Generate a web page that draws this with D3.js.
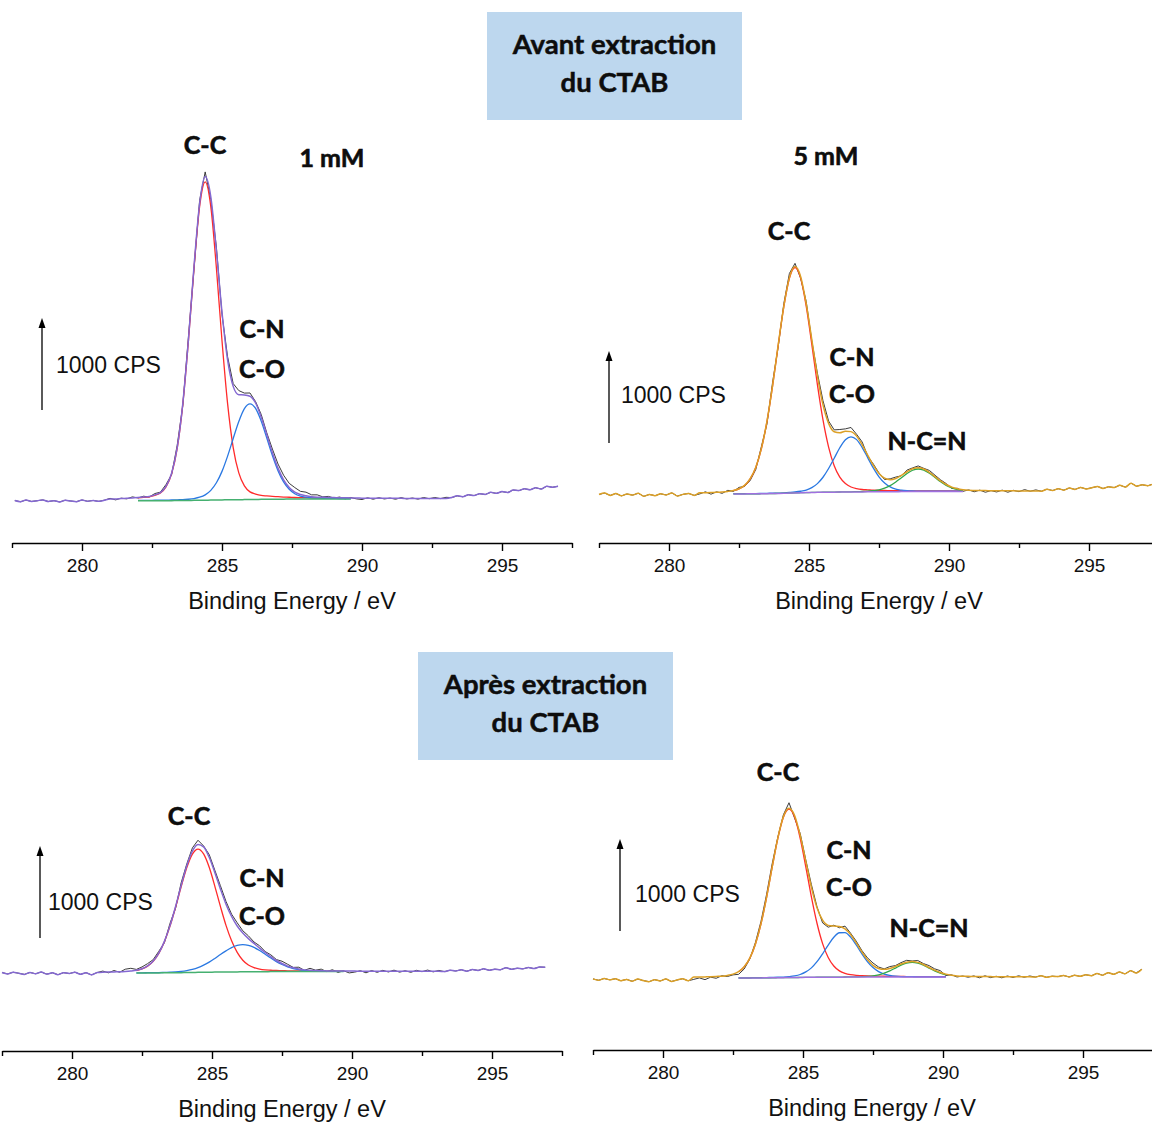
<!DOCTYPE html>
<html><head><meta charset="utf-8">
<script src="https://cdn.jsdelivr.net/npm/d3@7"></script>
<style>html,body{margin:0;padding:0;background:#fff;}svg{display:block;}</style>
</head><body>
<svg id="chart" width="1152" height="1122"></svg>
<script>
// ---------------- DATA ----------------
const energyDomain = [277.5, 297.5];
const tickLabels = [280, 285, 290, 295];
const minorTicks = [277.5, 282.5, 287.5, 292.5, 297.5];
const STEP = 0.2; // eV sampling of every series

// Panel A : 1 mM, avant extraction (raw from 277.6 eV, fit from 281.0 eV)
const rawA = [5,-8,10,-5,3,12,-6,4,-10,8,0,-7,11,-3,6,-4,9,
 29,12,31,23,45,33,52,43,81,96,179,287,605,1039,1779,2524,3266,3577,3276,2760,2027,1568,1276,1200,1173,1174,1080,941,740,565,402,280,192,146,105,96,67,67,45,50,32,43,23,38,23,16,35,19,36,22,32,19,37,22,33,20,38,25,38,26,40,
 37,56,46,68,59,79,71,94,83,102,92,119,113,133,122,144,130,160,149,160];
const bgA = [3,3,3,3,3,3,3,3,3,3,4,4,5,5,6,7,8,9,10,11,12,13,14,14,15,16,17,18,19,19,20,20,21,21,21,
 22,22,22,22,22,22,22,22,22,22,22,22,22,22,22,22,22,22,22,22,22,22,22,22,22,22];
const ccA = [16,17,20,23,27,31,36,43,59,83,149,291,567,1045,1730,2522,3190,3460,
 3190,2522,1730,1045,567,291,149,83,59,43,36,31,27,23,20,17,16,
 14,12,11,10,9,9,8,8,7,7,6,6,6,5,5,5,5,5,4,4,4,4,4,4,4,4];
const cnA = [2,2,3,3,3,3,4,4,5,5,6,7,8,9,13,20,33,58,106,187,310,475,665,850,989,1040,
 989,850,665,475,310,187,106,58,33,20,13,9,8,7,6,5,5,4,4,3,3,3,3,3,2,2,2,2,2,2,2,2,2,2,2];

// Panel B : 5 mM, avant extraction (raw from 277.5 eV, fit from 281.1 eV)
const rawB = [-5,10,-15,5,-20,0,-12,8,-25,-5,-18,2,-10,12,-22,-4,6,-15,
 1,24,-2,24,7,40,28,72,82,147,267,516,763,1215,1600,2069,2397,2507,2345,2094,1664,1314,1013,793,697,701,708,723,649,565,410,325,228,157,165,184,198,260,284,305,279,256,204,154,113,60,62,29,45,24,42,19,37,22,42,19,40,25,48,30,
 45,30,52,38,58,42,65,50,72,55,68,82,60,78,70,95,75,118,85,100,90,110];
const bgB = [0,0,0,0,0,0,1,1,1,2,2,3,4,5,6,8,10,12,14,15,17,18,19,20,20,21,22,22,23,23,24,24,24,25,25,25,26,26,26,27,27,28,28,28,28,
 28,28,28,28,28,28,28,28,28,28,28,28,28,28,28,28];
const ccB = [12,13,15,17,21,26,35,54,91,162,287,490,786,1171,1610,2026,2335,2450,
 2335,2026,1610,1171,786,490,287,162,91,54,35,26,21,17,15,13,12,
 11,10,9,9,8,8,7,7,6,6,6,6,5,5,5,5,5,4,4,4,4,4,4,4,4,4];
const cnB = [1,1,1,1,1,2,2,2,2,3,3,3,3,4,4,5,7,10,16,28,52,95,163,257,369,482,568,600,
 568,482,369,257,163,95,52,28,16,10,7,5,4,4,3,3,3,2,2,2,2,2,2,2,1,1,1,1,1,1,1,1,1];
const ncnB = [0,0,0,0,0,0,0,0,0,0,0,0,0,0,0,0,0,0,0,0,0,0,0,
 1,1,1,2,2,3,4,6,12,21,39,66,105,151,197,232,245,
 232,197,151,105,66,39,21,12,6,4,3,2,2,1,1,1,1,0,0,0,0];

// Panel C : 1 mM, après extraction (raw from 277.5 eV, fit from 281.1 eV)
const rawC = [5,-10,8,-3,-15,6,-8,10,-12,2,-18,4,-6,9,-14,3,-20,5,
 21,2,27,8,41,51,39,66,102,145,236,329,540,704,982,1186,1360,1443,1381,1288,1118,949,778,639,546,459,404,337,296,233,198,146,128,95,61,63,29,51,31,42,15,36,6,24,1,10,25,2,27,7,29,11,31,9,25,7,29,14,32,12,28,
 15,30,22,35,20,38,28,45,30,42,35,58,40,52,45,60,48,65,62];
const bgC = [0,0,0,0,0,0,0,0,1,1,1,2,2,3,4,5,6,7,8,9,10,11,11,12,12,13,13,14,14,14,
 15,15,15,15,15,15,15,15,15,15,15,15,15,15,15,15,15,15,15,15,15,15,15,15,15,15,15,15,15,15,15];
const ccC = [8,9,11,12,15,19,27,44,74,126,212,338,507,713,935,1140,1286,1340,
 1286,1140,935,713,507,338,212,126,74,44,27,19,15,12,11,9,8,7,6,6,5,5,5,4,4,4,4,4,3,3,3,3,3,3,3,3,3,3,2,2,2,2,2];
const cnC = [1,1,1,1,1,2,2,2,2,3,3,4,6,8,13,21,33,51,77,109,148,190,230,264,287,295,
 287,264,230,190,148,109,77,51,33,21,13,8,6,4,3,3,2,2,2,2,1,1,1,1,1,1,1,1,1,1,1,1,1,1,1];

// Panel D : 5 mM, après extraction (raw from 277.5 eV, fit from 281.1 eV)
const rawD = [-10,-25,-5,-20,-8,-30,-15,-35,-12,-28,-40,-18,-32,-10,-38,-22,-8,-30,
 -15,1,-18,9,-3,25,16,34,40,98,206,385,616,910,1243,1531,1774,1905,1737,1571,1283,1015,774,599,552,574,546,564,487,401,300,220,163,119,99,124,135,167,192,185,190,157,135,100,80,27,35,11,22,8,23,2,24,4,19,2,22,6,24,8,22,
 10,25,8,20,15,28,12,30,18,35,25,50,30,58,40,65,45,80,55,95];
const bgD = [0,0,0,0,0,0,0,0,0,0,0,1,1,2,2,3,4,5,5,6,7,7,8,8,9,9,9,
 10,10,10,10,10,10,10,10,10,10,10,10,10,10,10,10,10,10,10,10,10,10,10,10,10,10,10,10,10,10,10,10,10,10];
const ccD = [9,10,11,13,16,19,26,40,68,121,214,366,587,875,1202,1513,1744,1830,
 1744,1513,1202,875,587,366,214,121,68,40,26,19,16,13,11,10,9,8,7,7,6,6,6,5,5,5,5,5,4,4,4,4,4,4,4,4,3,3,3,3,3,3,3];
const cnD = [1,1,1,1,1,1,2,2,2,2,2,3,3,3,4,5,6,10,18,32,59,103,169,255,349,434,483,483,
 434,349,255,169,103,59,32,18,10,6,5,4,3,3,2,2,2,2,2,1,1,1,1,1,1,1,1,1,1,1,1,1,1];
const ncnD = [0,0,0,0,0,0,0,0,0,0,0,0,0,0,0,0,0,0,0,0,0,0,0,0,0,0,
 1,1,2,3,4,8,14,25,43,68,98,129,151,160,151,129,98,68,43,25,14,8,4,3,2,1,1,
 0,0,0,0,0,0,0,0];

// energy window over which the fitted components / background were drawn
const compRangeA = [282.0, 289.6];
const compRangeB = [282.3, 290.5];
const compRangeC = [282.2, 289.8];
const compRangeD = [282.7, 290.2];

// ---------------- STYLE / LAYOUT ----------------
const RED = '#ff2b2b', BLUE = '#2a78e2', GREEN = '#45b070', NGREEN = '#2fa84a';
const PURPLE = '#8468d2', GOLD = '#dca026', VIOLET = '#a070e0', RAW = '#3c3c3c';
const PX_PER_1000 = 92;

const panels = [
 {raw: rawA, rawStart: 277.6, fitStart: 281.0, bg: bgA, comps: [[ccA, RED], [cnA, BLUE]], range: compRangeA,
  env: PURPLE, bgColor: GREEN, x0: 12, x1: 572, axisY: 543, baseY: 501,
  arrowX: 42, arrowFrom: 990, cpsX: 56, cpsY: 365, titleX: 292, titleY: 601,
  labels: [['C-C',205,144],['1 mM',332,157],['C-N',262,328],['C-O',262,368]]},
 {raw: rawB, rawStart: 277.5, fitStart: 281.1, bg: bgB, comps: [[ccB, RED], [cnB, BLUE], [ncnB, NGREEN]], range: compRangeB,
  env: GOLD, bgColor: VIOLET, x0: 599, x1: 1159, axisY: 543, baseY: 494,
  arrowX: 609, arrowFrom: 554, cpsX: 621, cpsY: 395, titleX: 879, titleY: 601,
  labels: [['5 mM',826,155],['C-C',789,230],['C-N',852,356],['C-O',852,393],['N-C=N',927,440]]},
 {raw: rawC, rawStart: 277.5, fitStart: 281.1, bg: bgC, comps: [[ccC, RED], [cnC, BLUE]], range: compRangeC,
  env: PURPLE, bgColor: GREEN, x0: 2, x1: 562, axisY: 1051, baseY: 973,
  arrowX: 40, arrowFrom: 380, cpsX: 48, cpsY: 902, titleX: 282, titleY: 1109,
  labels: [['C-C',189,815],['C-N',262,877],['C-O',262,915]]},
 {raw: rawD, rawStart: 277.5, fitStart: 281.1, bg: bgD, comps: [[ccD, RED], [cnD, BLUE], [ncnD, NGREEN]], range: compRangeD,
  env: GOLD, bgColor: VIOLET, x0: 593, x1: 1153, axisY: 1050, baseY: 978,
  arrowX: 620, arrowFrom: 511, cpsX: 635, cpsY: 894, titleX: 872, titleY: 1108,
  labels: [['C-C',778,771],['C-N',849,849],['C-O',849,886],['N-C=N',929,927]]}
];

const boxes = [
 {x: 487, y: 12, w: 255, h: 108, lines: ['Avant extraction', 'du CTAB'], ly: [43, 81]},
 {x: 418, y: 652, w: 255, h: 108, lines: ['Après extraction', 'du CTAB'], ly: [683, 721]}
];

// ---------------- DRAW ----------------
const svg = d3.select('#chart');
svg.append('rect').attr('width', 1152).attr('height', 1122).attr('fill', '#fff');
const AXFONT = '"Liberation Sans", Arial, sans-serif';
const BOLDFONT = 'Lato, "Open Sans", sans-serif';

const pts = (start, vals) => vals.map((v, i) => [start + STEP * i, v]);

panels.forEach(p => {
  const x = d3.scaleLinear().domain(energyDomain).range([p.x0, p.x1]);
  const y = d3.scaleLinear().domain([0, 1000]).range([p.baseY, p.baseY - PX_PER_1000]);
  const g = svg.append('g');

  // axis
  const ax = g.append('g').attr('transform', `translate(0,${p.axisY})`)
    .call(d3.axisBottom(x).tickValues(tickLabels).tickSize(8).tickSizeOuter(0).tickPadding(8).tickFormat(d3.format('d')));
  ax.attr('font-size', 19).attr('font-family', AXFONT);
  ax.select('.domain').attr('stroke', '#000').attr('stroke-width', 1.6);
  ax.selectAll('.tick line').attr('stroke', '#000').attr('stroke-width', 1.4);
  ax.selectAll('.tick text').attr('fill', '#111');
  const mn = g.append('g').attr('transform', `translate(0,${p.axisY})`)
    .call(d3.axisBottom(x).tickValues(minorTicks).tickSize(5).tickSizeOuter(0).tickFormat(''));
  mn.select('.domain').remove();
  mn.selectAll('.tick line').attr('stroke', '#000').attr('stroke-width', 1.4);

  g.append('text').attr('x', p.titleX).attr('y', p.titleY).attr('text-anchor', 'middle')
    .attr('dominant-baseline', 'central').attr('font-family', AXFONT).attr('font-size', 23.5)
    .attr('fill', '#111').text('Binding Energy / eV');

  // series
  const rawPts = pts(p.rawStart, p.raw);
  const fitLen = p.bg.length;
  const fitEnd = p.fitStart + STEP * (fitLen - 1);
  const envVals = p.bg.map((b, i) => b + p.comps.reduce((s, c) => s + c[0][i], 0));
  const fitEnv = pts(p.fitStart, envVals);
  const envPts = rawPts.filter(d => d[0] < p.fitStart - 1e-6)
    .concat(fitEnv)
    .concat(rawPts.filter(d => d[0] > fitEnd + 1e-6));
  const inRange = d => d[0] >= p.range[0] - 1e-6 && d[0] <= p.range[1] + 1e-6;

  const lineLin = d3.line().x(d => x(d[0])).y(d => y(d[1]));
  const lineSm = d3.line().x(d => x(d[0])).y(d => y(d[1])).curve(d3.curveMonotoneX);

  g.append('path').datum(rawPts).attr('d', lineLin).attr('fill', 'none')
    .attr('stroke', RAW).attr('stroke-width', 1).attr('stroke-linejoin', 'round');
  p.comps.forEach(c => {
    const vals = c[0].map((v, i) => v + p.bg[i]);
    g.append('path').datum(pts(p.fitStart, vals).filter(inRange)).attr('d', lineSm).attr('fill', 'none')
      .attr('stroke', c[1]).attr('stroke-width', 1.3);
  });
  g.append('path').datum(pts(p.fitStart, p.bg).filter(inRange)).attr('d', lineSm).attr('fill', 'none')
    .attr('stroke', p.bgColor).attr('stroke-width', 1.5);
  g.append('path').datum(envPts).attr('d', lineSm).attr('fill', 'none')
    .attr('stroke', p.env).attr('stroke-width', 1.5).attr('stroke-linejoin', 'round');

  // 1000 CPS arrow
  const yb = y(p.arrowFrom), yt = y(p.arrowFrom + 1000);
  g.append('line').attr('x1', p.arrowX).attr('x2', p.arrowX).attr('y1', yb).attr('y2', yt + 6)
    .attr('stroke', '#000').attr('stroke-width', 1.3);
  g.append('path').attr('d', `M${p.arrowX},${yt} L${p.arrowX - 3.5},${yt + 10} L${p.arrowX + 3.5},${yt + 10} Z`)
    .attr('fill', '#000');
  g.append('text').attr('x', p.cpsX).attr('y', p.cpsY).attr('dominant-baseline', 'central')
    .attr('font-family', AXFONT).attr('font-size', 23).attr('fill', '#111').text('1000 CPS');

  // annotations
  p.labels.forEach(l => {
    g.append('text').attr('x', l[1]).attr('y', l[2]).attr('text-anchor', 'middle')
      .attr('dominant-baseline', 'central').attr('font-family', BOLDFONT)
      .attr('font-weight', 700).attr('font-size', 25).attr('fill', '#0d0d0d')
      .attr('stroke', '#0d0d0d').attr('stroke-width', 0.6).text(l[0]);
  });
});

boxes.forEach(b => {
  svg.append('rect').attr('x', b.x).attr('y', b.y).attr('width', b.w).attr('height', b.h).attr('fill', '#bdd7ee');
  b.lines.forEach((t, i) => {
    svg.append('text').attr('x', b.x + b.w / 2).attr('y', b.ly[i]).attr('text-anchor', 'middle')
      .attr('dominant-baseline', 'central').attr('font-family', BOLDFONT).attr('font-weight', 700)
      .attr('font-size', 27.5).attr('fill', '#0d0d0d')
      .attr('stroke', '#0d0d0d').attr('stroke-width', 0.5).text(t);
  });
});
</script>
</body></html>
